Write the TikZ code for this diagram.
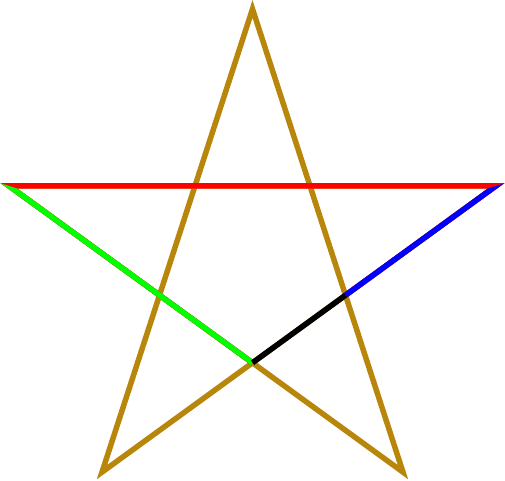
\documentclass[tikz,border=0pt]{standalone}
\usepackage{tikz}
\usetikzlibrary{calc}
\definecolor{emas}{HTML}{B8860B}
\tikzset{sisi/.style={line width=5.5pt}}

\begin{document}
\begin{tikzpicture}[x=1pt,y=1pt]
  \useasboundingbox (0,0) rectangle (505,480);
  \coordinate (O) at (252.5,215);

  % Titik sudut bintang
  \foreach \name/\sudut in {T/90, L/162, BL/234, BR/306, R/18} {
    \coordinate (\name) at ($(O)+(\sudut:256)$);
  }
  % Titik potong di dalam
  \coordinate (J) at ($(BL)!0.382!(R)$);
  \coordinate (X) at ($(BL)!0.618!(R)$);

  % Bintang emas
  \draw[sisi, emas] (T) -- (BR) -- (L) -- (R) -- (BL) -- cycle;

  % Garis merah (ujung runcing ikut)
  \draw[sisi, red] (J) -- (L) -- (R) -- (X);

  % Garis hijau, dipotong di garis bagi sudut L
  \begin{scope}
    \clip ($(L)+(162:20)$) -- ($(L)+(-18:300)$) -- ++(0,-400) -- ($(L)+(162:20)+(0,-400)$) -- cycle;
    \draw[sisi, green] (R) -- (L) -- (J);
  \end{scope}

  % Garis biru, dipotong di garis bagi sudut R
  \begin{scope}
    \clip ($(R)+(18:20)$) -- ($(R)+(198:300)$) -- ++(0,-400) -- ($(R)+(18:20)+(0,-400)$) -- cycle;
    \draw[sisi, blue] (L) -- (R) -- (X);
  \end{scope}

  % Garis hitam
  \draw[sisi, black] (J) -- (X);
\end{tikzpicture}
\end{document}
